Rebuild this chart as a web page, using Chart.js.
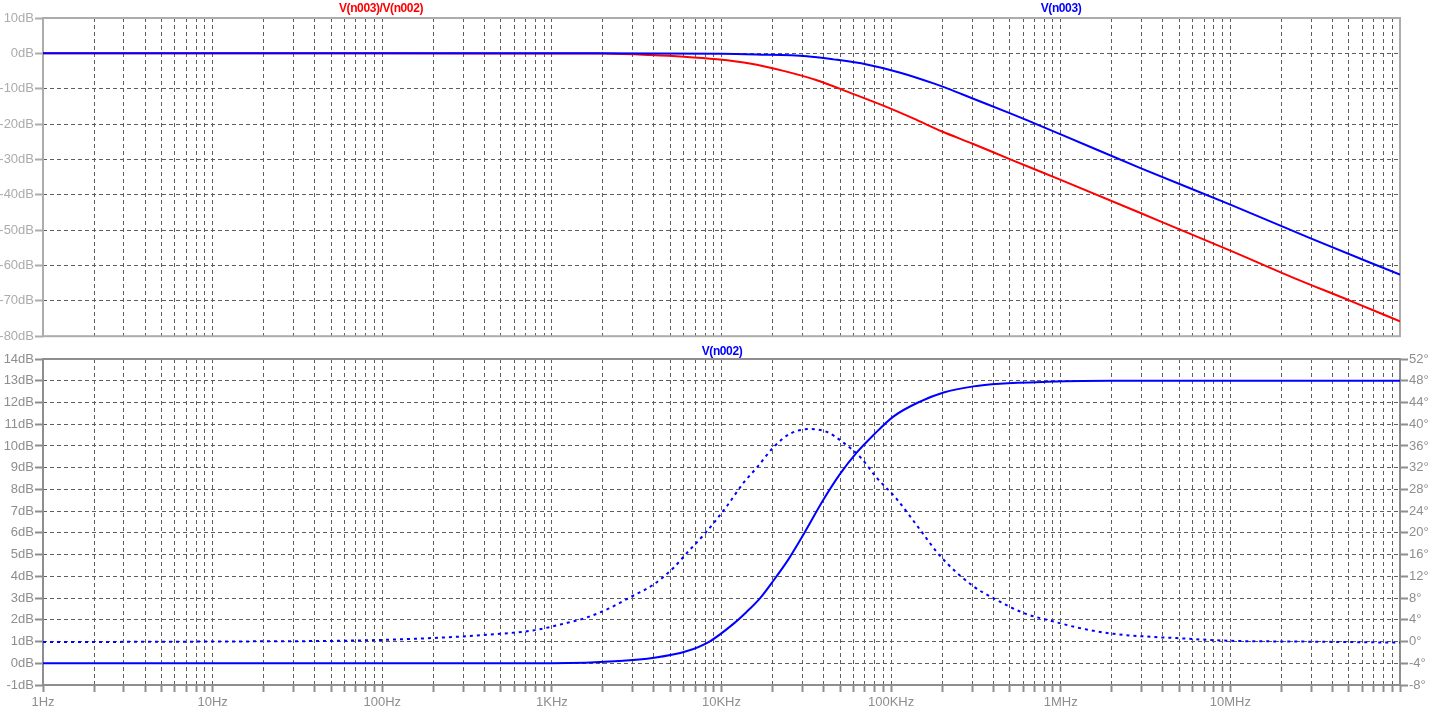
<!DOCTYPE html>
<html>
<head>
<meta charset="utf-8">
<script src="https://cdn.jsdelivr.net/npm/chart.js@4/dist/chart.umd.min.js"></script>
<style>
  body { margin: 0; background: #fff; width: 1436px; height: 711px; overflow: hidden; position: relative; }
  .pane { position: absolute; left: 0; width: 1436px; }
  #topPane { top: 0; height: 345px; }
  #botPane { top: 345px; height: 366px; }
  .trace { position: absolute; font: bold 12px Arial, "Liberation Sans", sans-serif; letter-spacing: -0.4px;
           transform: translate(-50%, -50%); white-space: nowrap; }
</style>
</head>
<body>
<div class="pane" id="topPane"><canvas id="topChart" width="1436" height="345"></canvas></div>
<div class="pane" id="botPane"><canvas id="botChart" width="1436" height="366"></canvas></div>
<div class="trace" style="left:381px;top:8px;color:#ff0000">V(n003)/V(n002)</div>
<div class="trace" style="left:1061px;top:8px;color:#0000ff">V(n003)</div>
<div class="trace" style="left:722px;top:351px;color:#0000ff">V(n002)</div>
<script>
// frequency axis
const decadeValues = [1, 10, 100, 1e3, 1e4, 1e5, 1e6, 1e7];
const decadeLabels = ['1Hz', '10Hz', '100Hz', '1KHz', '10KHz', '100KHz', '1MHz', '10MHz'];

// top pane: V(n003)/V(n002) in dB
const ratioFreq = [1, 100, 1000, 2000, 3800, 6000, 9400, 14700, 23200, 36500, 57000, 90000, 135000, 200000, 300000, 500000, 1e6, 3e6, 1e7, 2.36e7, 5.1e7, 1e8];
const ratioDb   = [0, 0, -0.02, -0.07, -0.48, -0.95, -1.68, -2.85, -4.95, -7.6, -11.1, -14.8, -18.4, -22.1, -25.5, -29.9, -35.8, -45.3, -55.8, -63.5, -70.0, -75.8];

// top pane: V(n003) in dB
const n003Freq = [1, 1000, 10000, 16000, 31900, 45800, 71800, 112000, 178000, 218000, 300000, 500000, 700000, 1e6, 3e6, 1e7, 3e7, 1e8];
const n003Db   = [0, 0, -0.1, -0.3, -0.8, -1.7, -3.15, -5.4, -8.5, -10.05, -12.7, -16.9, -19.8, -22.9, -32.6, -42.8, -52.4, -62.6];

// bottom pane: V(n002) magnitude (dB)
const n002MagFreq = [1, 1000, 2500, 4000, 6200, 8500, 11700, 14000, 16900, 20000, 24800, 30300, 39700, 49900, 62800, 78700, 103000, 148000, 204000, 306000, 437000, 830000, 2e6, 1e8];
const n002MagDb   = [0, 0, 0.1, 0.25, 0.55, 1.0, 1.8, 2.35, 3.0, 3.75, 4.78, 5.9, 7.5, 8.7, 9.7, 10.5, 11.35, 12.04, 12.46, 12.74, 12.86, 12.95, 13.0, 13.0];

// bottom pane: V(n002) phase (degrees)
const n002PhFreq = [1, 10, 100, 495, 796, 1170, 1607, 2155, 2917, 3934, 5203, 6380, 8000, 10740, 13460, 16140, 20200, 25200, 33000, 41700, 52300, 66000, 82000, 108000, 148000, 195000, 306000, 400000, 605000, 906000, 1.3e6, 2.04e6, 3.2e6, 4.8e6, 1e7, 2.5e7, 1e8];
const n002PhDeg  = [-0.1, 0, 0.3, 1.42, 2.1, 3.27, 4.43, 6.04, 8.2, 10.4, 13.55, 16.6, 19.9, 24.9, 29.2, 32.0, 35.7, 38.2, 39.1, 38.6, 36.6, 33.9, 30.2, 26.2, 20.6, 15.7, 10.15, 8.0, 5.24, 3.69, 2.47, 1.42, 0.92, 0.63, 0.13, 0, -0.2];

const fontFam = 'Arial, "Liberation Sans", sans-serif';
const gridColor = '#5e5e5e';

const pts = (xs, ys) => xs.map((x, i) => ({ x: x, y: ys[i] }));

const xTicks = [];
decadeValues.forEach(d => {
  for (let m = 1; m <= 9; m++) xTicks.push(m * d);
});
xTicks.push(1e8);

const framePlugin = {
  id: 'frame',
  beforeDatasetsDraw(chart, args, opts) {
    const { ctx, chartArea: a } = chart;
    ctx.save();
    ctx.strokeStyle = opts.color;
    ctx.lineWidth = 2;
    ctx.strokeRect(a.left, a.top, a.right - a.left, a.bottom - a.top);
    ctx.restore();
  }
};

function freqAxis(showLabels, color) {
  return {
    type: 'logarithmic',
    min: 1,
    max: 1e8,
    afterBuildTicks: s => { s.ticks = xTicks.map(v => ({ value: v })); },
    afterFit: s => { s.height = showLabels ? 26 : 0; },
    border: { display: false, dash: [4, 3] },
    grid: {
      color: gridColor,
      lineWidth: 1,
      drawTicks: showLabels,
      tickLength: 7,
      tickColor: color,
      tickWidth: 2,
      tickBorderDash: []
    },
    ticks: {
      display: showLabels,
      autoSkip: false,
      maxRotation: 0,
      padding: 3,
      color: color,
      font: { family: fontFam, size: 13 },
      callback: (v) => {
        const i = decadeValues.indexOf(v);
        return i >= 0 ? decadeLabels[i] : '';
      }
    }
  };
}

function valueAxis(pos, min, max, step, unit, color, width) {
  return {
    type: 'linear',
    position: pos,
    min: min,
    max: max,
    afterFit: s => { s.width = width; },
    border: { display: false, dash: [4, 3] },
    grid: {
      color: pos === 'left' ? gridColor : 'transparent',
      lineWidth: 1,
      tickLength: 8,
      tickColor: color,
      tickWidth: 2,
      tickBorderDash: []
    },
    ticks: {
      stepSize: step,
      padding: 1,
      color: color,
      font: { family: fontFam, size: 13 },
      callback: v => v + unit
    }
  };
}

const commonOpts = {
  responsive: false,
  animation: false,
  events: [],
  plugins: { legend: { display: false }, tooltip: { enabled: false } }
};

new Chart(document.getElementById('topChart'), {
  type: 'line',
  data: {
    datasets: [
      { data: pts(ratioFreq, ratioDb), order: 2, borderColor: '#ff0000', borderWidth: 2, pointRadius: 0, cubicInterpolationMode: 'monotone' },
      { data: pts(n003Freq, n003Db), order: 1, borderColor: '#0000ff', borderWidth: 2, pointRadius: 0, cubicInterpolationMode: 'monotone' }
    ]
  },
  options: {
    ...commonOpts,
    layout: { padding: { top: 18, bottom: 6, left: 0, right: 36 } },
    plugins: { ...commonOpts.plugins, frame: { color: '#acacac' } },
    scales: {
      x: freqAxis(false, '#acacac'),
      y: valueAxis('left', -80, 10, 10, 'dB', '#acacac', 43)
    }
  },
  plugins: [framePlugin]
});

new Chart(document.getElementById('botChart'), {
  type: 'line',
  data: {
    datasets: [
      { data: pts(n002MagFreq, n002MagDb), yAxisID: 'y', borderColor: '#0000ff', borderWidth: 2, pointRadius: 0, cubicInterpolationMode: 'monotone' },
      { data: pts(n002PhFreq, n002PhDeg), yAxisID: 'y2', borderColor: '#0000ff', borderWidth: 2, borderDash: [3, 4], pointRadius: 0, cubicInterpolationMode: 'monotone' }
    ]
  },
  options: {
    ...commonOpts,
    layout: { padding: { top: 14, bottom: 0, left: 0, right: 0 } },
    plugins: { ...commonOpts.plugins, frame: { color: '#8e8e8e' } },
    scales: {
      x: freqAxis(true, '#8e8e8e'),
      y: valueAxis('left', -1, 14, 1, 'dB', '#8e8e8e', 43),
      y2: valueAxis('right', -8, 52, 4, '°', '#8e8e8e', 36)
    }
  },
  plugins: [framePlugin]
});
</script>
</body>
</html>
